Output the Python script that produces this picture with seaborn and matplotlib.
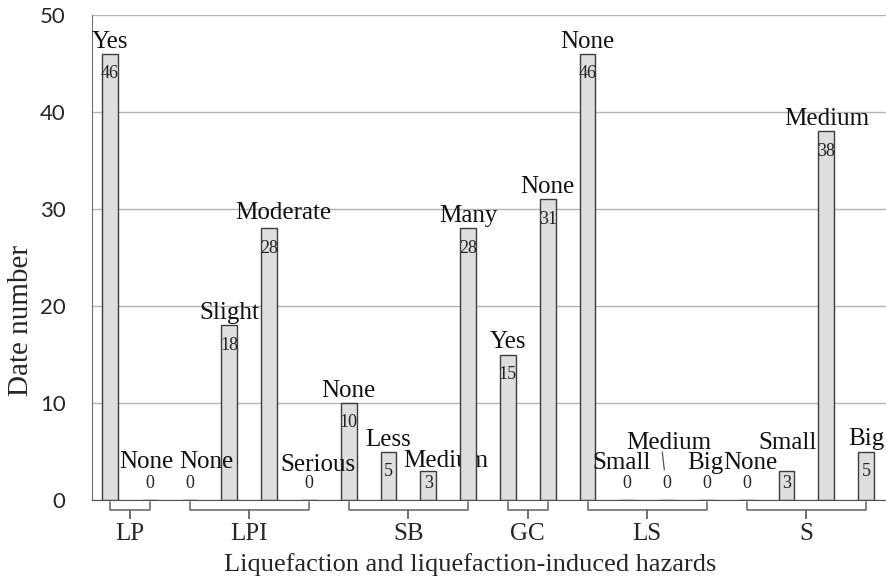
import matplotlib
matplotlib.use("Agg")
import matplotlib.pyplot as plt
import matplotlib.transforms as mtransforms
import seaborn as sns
import pandas as pd
import numpy as np

### Data ###
groups = ["LP", "LPI", "SB", "GC", "LS", "S"]
group_sizes = [2, 4, 4, 2, 4, 4]
levels = ["Yes", "None",
          "None", "Slight", "Moderate", "Serious",
          "None", "Less", "Medium", "Many",
          "Yes", "None",
          "None", "Small", "Medium", "Big",
          "None", "Small", "Medium", "Big"]
counts = [46, 0,
          0, 18, 28, 0,
          10, 5, 3, 28,
          15, 31,
          46, 0, 0, 0,
          0, 3, 38, 5]

# hand placed level labels (dx, dy in pixels from the bar top, label centre)
label_nudge = {1: (-3, 38), 2: (17, 38), 4: (14, 15), 5: (9, 35), 8: (17, 10),
               13: (-6, 37), 14: (2, 57), 15: (-2, 37), 16: (4, 37), 17: (1, 28)}
behind_bars = [8]  # SB "Medium" is partly hidden by the next bar in the original

SERIF = ["Liberation Serif", "DejaVu Serif"]
px = 72 / 100  # pixels -> points at dpi 100

sns.set_style("white")
plt.rcParams['font.family'] = SERIF

df = pd.DataFrame({"pos": np.arange(len(counts)), "level": levels, "count": counts})

fig = plt.figure(figsize=(8.86, 5.87), dpi=100)
ax = fig.add_axes([92 / 886, 1 - 500 / 587, 794 / 886, 485 / 587])

sns.barplot(data=df, x="pos", y="count", ax=ax, width=0.4, color="#dedede",
            edgecolor="#3c3c3c", linewidth=1.0, saturation=1)

ax.set_ylim(0, 50)
ax.set_xlim(-0.45, len(counts) - 0.5)
ax.set_yticks(range(0, 51, 10))
ax.set_yticklabels([str(v) for v in range(0, 51, 10)], family=["Lato", "DejaVu Sans"], fontsize=16)
ax.tick_params(axis="y", length=0, pad=19)
ax.set_xticks([])
ax.set_xlabel("")
ax.set_ylabel("")
ax.yaxis.grid(True, color="#b4b4b4", linewidth=1.0)
ax.set_axisbelow(True)
for s in ["top", "right"]:
    ax.spines[s].set_visible(False)
ax.spines["left"].set_color("#707070")
ax.spines["bottom"].set_color("#505050")

### Labels on the bars ###
for i, (lev, v) in enumerate(zip(levels, counts)):
    dx, dy = label_nudge.get(i, (0, 12))
    ax.annotate(lev, (i, v), xytext=(dx * px, dy * px), textcoords="offset points",
                ha="center", va="center", fontsize=18, color="#111111",
                zorder=0.8 if i in behind_bars else 3)
    ax.text(i, max(v - 2.06, 1.75), str(v), ha="center", va="center", fontsize=13, color="#222222")

# small leader line for LS "Medium"
ax.plot([13.88, 13.93], [4.95, 3.1], color="#555555", lw=0.9)

### Group brackets ###
btr = mtransforms.blended_transform_factory(ax.transData, ax.transAxes)
top, mid, bot = -2 / 485, -10 / 485, -18 / 485
start = 0
for g, n in zip(groups, group_sizes):
    x0, x1 = start, start + n - 1
    xc = (x0 + x1) / 2
    ax.plot([x0, x0, xc, xc, xc, x1, x1], [top, mid, mid, bot, mid, mid, top],
            transform=btr, clip_on=False, color="#707070", lw=1.2)
    ax.text(xc, -34 / 485, g, transform=btr, ha="center", va="center", fontsize=18)
    start += n

ax.text((470 - 92) / 794, -65 / 485, "Liquefaction and liquefaction-induced hazards",
        transform=ax.transAxes, ha="center", va="center", fontsize=19)
fig.text(21 / 886, 1 - 321 / 587, "Date number", rotation=90, ha="center", va="center", fontsize=21)

plt.savefig("out.png", dpi=100)
